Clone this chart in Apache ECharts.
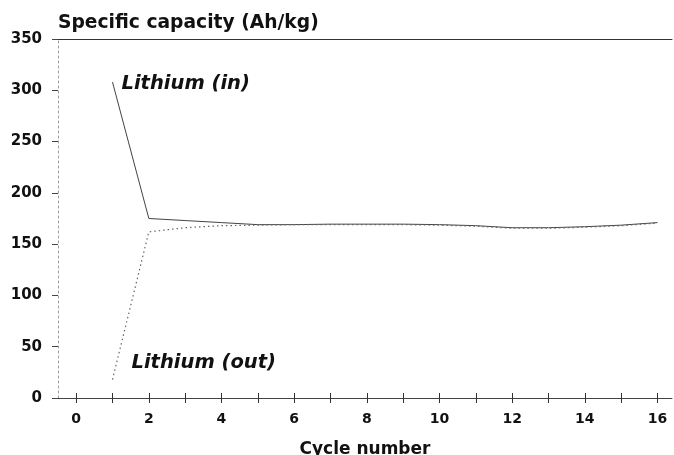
<!DOCTYPE html>
<html>
<head>
<meta charset="utf-8">
<script src="https://cdn.jsdelivr.net/npm/echarts@6/dist/echarts.min.js"></script>
<style>
    html, body { margin: 0; padding: 0; background: #fff; }
    #chart { width: 674px; height: 455px; }
</style>
</head>
<body>
<div id="chart"></div>
<script>
// cycle numbers and capacities
var cycles = [1, 2, 3, 4, 5, 6, 7, 8, 9, 10, 11, 12, 13, 14, 15, 16];
var lithiumIn = [308, 175, 173, 171, 169, 169, 169.5, 169.5, 169.5, 169, 168, 166, 166, 167, 168.5, 171];
var lithiumOut = [18, 162, 166, 168, 168.5, 169, 169, 169, 169, 168.5, 167.5, 165.5, 165.5, 166.5, 168, 170.5];
var xTicks = [0, 1, 2, 3, 4, 5, 6, 7, 8, 9, 10, 11, 12, 13, 14, 15, 16];
var xLabels = [0, 2, 4, 6, 8, 10, 12, 14, 16];
var yTicks = [0, 50, 100, 150, 200, 250, 300, 350];

var font = 'DejaVu Sans';

function pairs(ys, labelText, labelOffset) {
    return cycles.map(function (c, i) {
        var item = { value: [c, ys[i]] };
        if (i === 0) {
            // curve name written next to its first point
            item.label = {
                show: true,
                position: 'right',
                distance: 9,
                offset: labelOffset,
                formatter: labelText,
                fontFamily: font,
                fontStyle: 'italic',
                fontWeight: 'bold',
                fontSize: 19.5,
                color: '#111'
            };
        }
        return item;
    });
}

var chart = echarts.init(document.getElementById('chart'), null, { renderer: 'canvas' });
chart.setOption({
    animation: false,
    backgroundColor: '#fff',
    title: {
        text: 'Specific capacity (Ah/kg)',
        left: 58,
        top: 14,
        padding: 0,
        textStyle: { fontFamily: font, fontWeight: 'bold', fontSize: 18.7, color: '#111' }
    },
    grid: { left: 58, right: 2, top: 39, bottom: 57, outerBoundsMode: 'none', containLabel: false },
    xAxis: [{
        type: 'value',
        min: -0.5,
        max: 16.4,
        position: 'bottom',
        name: 'Cycle number',
        nameLocation: 'middle',
        nameGap: 43,
        nameTextStyle: { fontFamily: font, fontWeight: 'bold', fontSize: 17, color: '#111' },
        axisLine: { show: true, onZero: false, lineStyle: { color: '#444', width: 1 } },
        axisTick: { show: true, length: 5, customValues: xTicks, lineStyle: { color: '#333' } },
        axisLabel: {
            customValues: xLabels,
            margin: 14,
            fontFamily: font, fontWeight: 'bold', fontSize: 14, color: '#111'
        },
        splitLine: { show: false }
    }, {
        // inner half of the crossing ticks
        type: 'value',
        min: -0.5,
        max: 16.4,
        position: 'bottom',
        axisLine: { show: false, onZero: false },
        axisTick: { show: true, inside: true, length: 5, customValues: xTicks, lineStyle: { color: '#333' } },
        axisLabel: { show: false },
        splitLine: { show: false }
    }, {
        // line along the top at 350
        type: 'value',
        min: -0.5,
        max: 16.4,
        position: 'top',
        axisLine: { show: true, onZero: false, lineStyle: { color: '#333', width: 1 } },
        axisTick: { show: false },
        axisLabel: { show: false },
        splitLine: { show: false }
    }],
    yAxis: {
        type: 'value',
        min: 0,
        max: 350,
        interval: 50,
        axisLine: { show: true, onZero: false, lineStyle: { color: '#999', width: 1, type: [2, 3] } },
        axisTick: { show: true, length: 6, customValues: yTicks, lineStyle: { color: '#444' } },
        axisLabel: {
            margin: 16,
            fontFamily: font, fontWeight: 'bold', fontSize: 15, color: '#111'
        },
        splitLine: { show: false }
    },
    series: [{
        name: 'Lithium (in)',
        type: 'line',
        symbol: 'circle',
        symbolSize: 0,
        showSymbol: true,
        lineStyle: { color: '#444', width: 1 },
        itemStyle: { color: '#444' },
        data: pairs(lithiumIn, 'Lithium (in)', [0, 2])
    }, {
        name: 'Lithium (out)',
        type: 'line',
        symbol: 'circle',
        symbolSize: 0,
        showSymbol: true,
        lineStyle: { color: '#666', width: 1.2, type: [1.5, 3] },
        itemStyle: { color: '#666' },
        data: pairs(lithiumOut, 'Lithium (out)', [10, -17])
    }]
});
</script>
</body>
</html>
